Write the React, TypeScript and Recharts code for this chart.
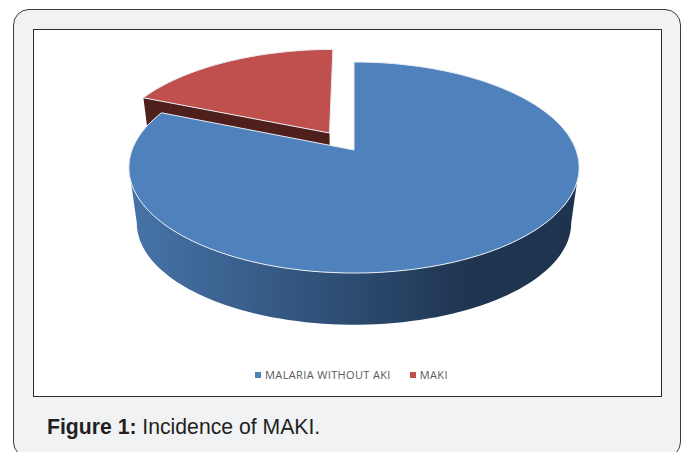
import { PieChart, Pie, Legend } from 'recharts';

const sliceNames = ['MALARIA WITHOUT AKI', 'MAKI'];
const sliceValues = [81.3, 18.7];
const topColors = ['#4f81bd', '#c0504d'];
const wallColors = ['url(#blueWall)', '#4f1f1c'];

const sliceData = sliceNames.map((name, i) => ({
  name,
  value: sliceValues[i],
  fill: topColors[i],
  wall: wallColors[i],
}));

const RAD = Math.PI / 180;
// perspective strength of the tilted disc
const TILT = 0.166;
const SQUASH = 0.4622;
const DEPTH = 56;
const FLOOR_SCALE = 0.965;
const EXPLODE = 0.205;

type Pt = [number, number];

// plane point (unit disc, v up) -> screen, floor=true gives the lower rim
function project(cx: number, cy: number, R: number, u: number, v: number, floor = false): Pt {
  const w = 1 + TILT * v;
  const s = floor ? FLOOR_SCALE : 1;
  return [cx + (R * s * u) / w, cy + (floor ? DEPTH : 0) - (R * SQUASH * s * v) / w];
}

function toPath(pts: Pt[]) {
  return 'M' + pts.map((p) => p[0].toFixed(1) + ',' + p[1].toFixed(1)).join('L') + 'Z';
}

function arcAngles(from: number, to: number) {
  const n = Math.max(2, Math.ceil(Math.abs(to - from) / 2));
  return Array.from({ length: n + 1 }, (_, i) => from + ((to - from) * i) / n);
}

function geometry(props: any) {
  const { cx, cy, outerRadius: R, startAngle, endAngle, index } = props;
  const mid = ((startAngle + endAngle) / 2) * RAD;
  // only the small slice is pulled out
  const off = index === 1 ? EXPLODE : 0;
  const du = off * Math.cos(mid);
  const dv = off * Math.sin(mid);
  const at = (a: number, r: number, floor = false) =>
    project(cx, cy, R, du + r * Math.cos(a * RAD), dv + r * Math.sin(a * RAD), floor);
  return { startAngle, endAngle, at };
}

function TopFace(props: any) {
  const { startAngle, endAngle, at } = geometry(props);
  const pts = [at(0, 0), ...arcAngles(startAngle, endAngle).map((a) => at(a, 1))];
  return <path d={toPath(pts)} fill={props.fill} stroke="#e9edf2" strokeWidth={1} strokeLinejoin="round" />;
}

function WallFace(props: any) {
  const { startAngle, at } = geometry(props);
  const wall = props.payload?.wall ?? props.wall;
  if (props.index === 1) {
    // cut face along the slice's left edge
    const d = toPath([at(0, 0), at(startAngle, 1), at(startAngle, 1, true), at(0, 0, true)]);
    return <path d={d} fill={wall} stroke="none" />;
  }
  // outer rim between the two tangent points of the disc
  const tangent = Math.asin(TILT) / RAD;
  const angles = arcAngles(-tangent, -180 + tangent);
  const pts = [...angles.map((a) => at(a, 1)), ...[...angles].reverse().map((a) => at(a, 1, true))];
  return <path d={toPath(pts)} fill={wall} />;
}

function legendText(value: string) {
  return (
    <span style={{ color: '#595959', fontSize: 11, fontFamily: 'Open Sans', letterSpacing: 0.36, marginRight: 9 }}>
      {value}
    </span>
  );
}

export default function App() {
  return (
    <div style={{ position: 'absolute', left: 0, top: 0, width: 685, height: 452, overflow: 'hidden', background: '#fff' }}>
      <div
        style={{
          position: 'absolute', left: 13, top: 9, width: 668, height: 449, boxSizing: 'border-box',
          background: '#f1f2f4', border: '1.5px solid #3c3c3c', borderRadius: 16,
        }}
      />
      <div
        style={{
          position: 'absolute', left: 33, top: 29, width: 629, height: 368, boxSizing: 'border-box',
          background: '#fff', border: '1px solid #2b2b2b',
        }}
      />
      <div style={{ position: 'absolute', left: 47, top: 415, fontFamily: 'Liberation Sans', fontSize: 21.2, color: '#231f20', whiteSpace: 'nowrap' }}>
        <b>Figure 1:</b> Incidence of MAKI.
      </div>
      <div style={{ position: 'absolute', left: 0, top: 0 }}>
        <PieChart width={685} height={452} margin={{ top: 0, right: 0, bottom: 0, left: 0 }}>
          <defs>
            <linearGradient id="blueWall" gradientUnits="userSpaceOnUse" x1="130" y1="0" x2="578" y2="0">
              <stop offset="0" stopColor="#4774a9" />
              <stop offset="0.5" stopColor="#2c4b70" />
              <stop offset="0.75" stopColor="#1f3551" />
              <stop offset="1" stopColor="#1e334e" />
            </linearGradient>
          </defs>
          <Pie data={sliceData} dataKey="value" nameKey="name" cx={354} cy={150} outerRadius={222} startAngle={90} endAngle={-270} legendType="none" isAnimationActive={false} shape={WallFace} />
          <Pie data={sliceData} dataKey="value" nameKey="name" cx={354} cy={150} outerRadius={222} startAngle={90} endAngle={-270} isAnimationActive={false} shape={TopFace} />
          <Legend
            layout="horizontal"
            iconType="square"
            iconSize={6}
            itemSorter={null}
            formatter={legendText}
            wrapperStyle={{ position: 'absolute', left: 207, top: 365, width: 308, bottom: 'auto' }}
          />
        </PieChart>
      </div>
    </div>
  );
}
